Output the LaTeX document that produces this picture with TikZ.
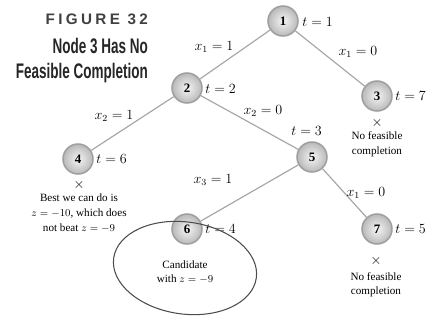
\documentclass[tikz,border=0pt]{standalone}
\usepackage{fontspec}
\setmainfont{Liberation Serif}
\newfontfamily\headfont[FakeStretch=0.64]{Liberation Sans}
\newfontfamily\figfont[LetterSpace=22]{Liberation Sans}
\usetikzlibrary{positioning}

\begin{document}
\begin{tikzpicture}[x=0.03cm, y=-0.03cm, every node/.style={font=\large},
  bbnode/.style={circle, draw=gray!75, line width=1.3pt, inner color=gray!8, outer color=gray!55, minimum size=0.9cm, inner sep=0pt, font=\fontsize{11}{13}\selectfont\bfseries},
  branch/.style={draw=gray!70, line width=1pt},
  tlab/.style={anchor=west, inner sep=1pt},
  note/.style={align=center, font=\fontsize{9.5}{12.5}\selectfont, inner sep=0pt}]
\useasboundingbox (0,0) rectangle (442,322);
% title
\node[anchor=east, font=\figfont\bfseries\fontsize{13}{15}\selectfont, text=black!75] (fig) at (152,19) {FIGURE 32};
\node[anchor=east, font=\headfont\bfseries\fontsize{18}{20}\selectfont, text=black!85] (head1) at (152,46) {Node 3 Has No};
\node[anchor=east, font=\headfont\bfseries\fontsize{18}{20}\selectfont, text=black!85] (head2) at (152,73) {Feasible Completion};
% tree
\node[bbnode] (n1) at (283,21) {1};
\node[bbnode] (n2) at (187,88) {2};
\node[bbnode] (n3) at (377,96) {3};
\node[bbnode] (n4) at (78,159) {4};
\node[bbnode] (n5) at (312,157) {5};
\node[bbnode] (n6) at (187,229) {6};
\node[bbnode] (n7) at (377,229) {7};
\draw[branch] (n1) -- (n2);
\draw[branch] (n1) -- (n3);
\draw[branch] (n2) -- (n4);
\draw[branch] (n2) -- (n5);
\draw[branch] (n5) -- (n6);
\draw[branch] (n5) -- (n7);
% branch labels
\node (e12) at (214,47) {$x_1 = 1$};
\node (e13) at (358,52) {$x_1 = 0$};
\node (e24) at (114,116) {$x_2 = 1$};
\node (e25) at (263,111) {$x_2 = 0$};
\node (e56) at (213,180) {$x_3 = 1$};
\node (e57) at (366,193) {$x_1 = 0$};
% t labels
\node[tlab] (t1) at (301,22) {$t = 1$};
\node[tlab] (t2) at (204,89) {$t = 2$};
\node[tlab] (t3) at (290,131) {$t = 3$};
\node[tlab] (t4) at (204,229) {$t = 4$};
\node[tlab] (t5) at (394,229) {$t = 5$};
\node[tlab] (t6) at (95,159) {$t = 6$};
\node[tlab] (t7) at (394,96) {$t = 7$};
% fathomed nodes
\node (x3) at (377,123) {$\times$};
\node[note, below=0pt of x3] (c3) {No feasible\\completion};
\node (x4) at (79,185) {$\times$};
\node[note, below=0pt of x4] (c4) {Best we can do is\\$z = -10$, which does\\not beat $z = -9$};
\node (x7) at (376,261) {$\times$};
\node[note, below=2pt of x7] (c7) {No feasible\\completion};
\node[note] (c6) at (185,272) {Candidate\\with $z = -9$};
\draw[black!70, line width=0.9pt, rotate around={-8:(185,268)}] (185,268) ellipse [x radius=72, y radius=46];
\end{tikzpicture}
\end{document}
